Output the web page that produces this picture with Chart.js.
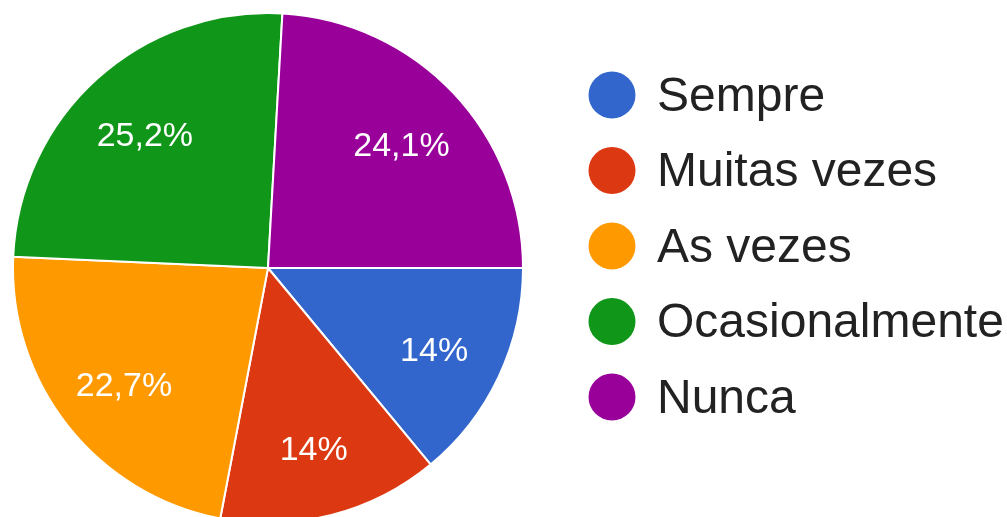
<!DOCTYPE html>
<html>
<head>
<meta charset="utf-8">
<script src="https://cdn.jsdelivr.net/npm/chart.js@4.4.1/dist/chart.umd.min.js"></script>
<style>
  html, body { margin: 0; padding: 0; background: #fff; overflow: hidden; }
  #wrap { position: absolute; left: 0; top: 0; width: 1007px; height: 536px; }
</style>
</head>
<body>
<div id="wrap"><canvas id="myChart" width="1007" height="536"></canvas></div>
<script>
var labels = ['Sempre', 'Muitas vezes', 'As vezes', 'Ocasionalmente', 'Nunca']
var values = [14, 14, 22.7, 25.2, 24.1]
var colors = ['#3366cc', '#dc3912', '#ff9900', '#109618', '#990099']

var fontFamily = '"Liberation Sans", Arial, sans-serif'

function formatPct(v){
    return String(v).replace('.', ',') + '%'
}

// percent labels inside the slices
var sliceLabels = {
    id: 'sliceLabels',
    afterDatasetsDraw: function(chart){
        var ctx = chart.ctx
        var meta = chart.getDatasetMeta(0)
        ctx.save()
        ctx.fillStyle = '#ffffff'
        ctx.font = '34px ' + fontFamily
        ctx.textAlign = 'center'
        ctx.textBaseline = 'middle'
        meta.data.forEach(function(arc, i){
            var p = arc.getProps(['x', 'y', 'startAngle', 'endAngle', 'outerRadius'], true)
            var mid = (p.startAngle + p.endAngle) / 2
            var r = p.outerRadius * 0.72
            ctx.fillText(formatPct(values[i]), p.x + Math.cos(mid) * r, p.y + Math.sin(mid) * r + 5)
        })
        ctx.restore()
    }
}

// legend on the right, circles + text
var sideLegend = {
    id: 'sideLegend',
    afterDraw: function(chart){
        var ctx = chart.ctx
        ctx.save()
        ctx.font = '48px ' + fontFamily
        ctx.textAlign = 'left'
        ctx.textBaseline = 'alphabetic'
        for (var i = 0; i < labels.length; i++) {
            var cy = 95 + i * 75.5
            ctx.beginPath()
            ctx.arc(612, cy, 23.5, 0, Math.PI * 2)
            ctx.fillStyle = colors[i]
            ctx.fill()
            ctx.fillStyle = '#222222'
            ctx.fillText(labels[i], 657, cy + 15.5)
        }
        ctx.restore()
    }
}

var ctx = document.getElementById('myChart').getContext('2d')
var myChart = new Chart(ctx, {
    type: 'pie',
    data: {
        labels: labels,
        datasets: [{
            data: values,
            backgroundColor: colors,
            borderColor: '#ffffff',
            borderWidth: 2
        }]
    },
    options: {
        responsive: false,
        animation: false,
        rotation: 90,
        layout: {
            padding: { left: 12, top: 12, right: 483, bottom: 12 }
        },
        plugins: {
            legend: { display: false },
            tooltip: { enabled: false }
        }
    },
    plugins: [sliceLabels, sideLegend]
})
</script>
</body>
</html>
